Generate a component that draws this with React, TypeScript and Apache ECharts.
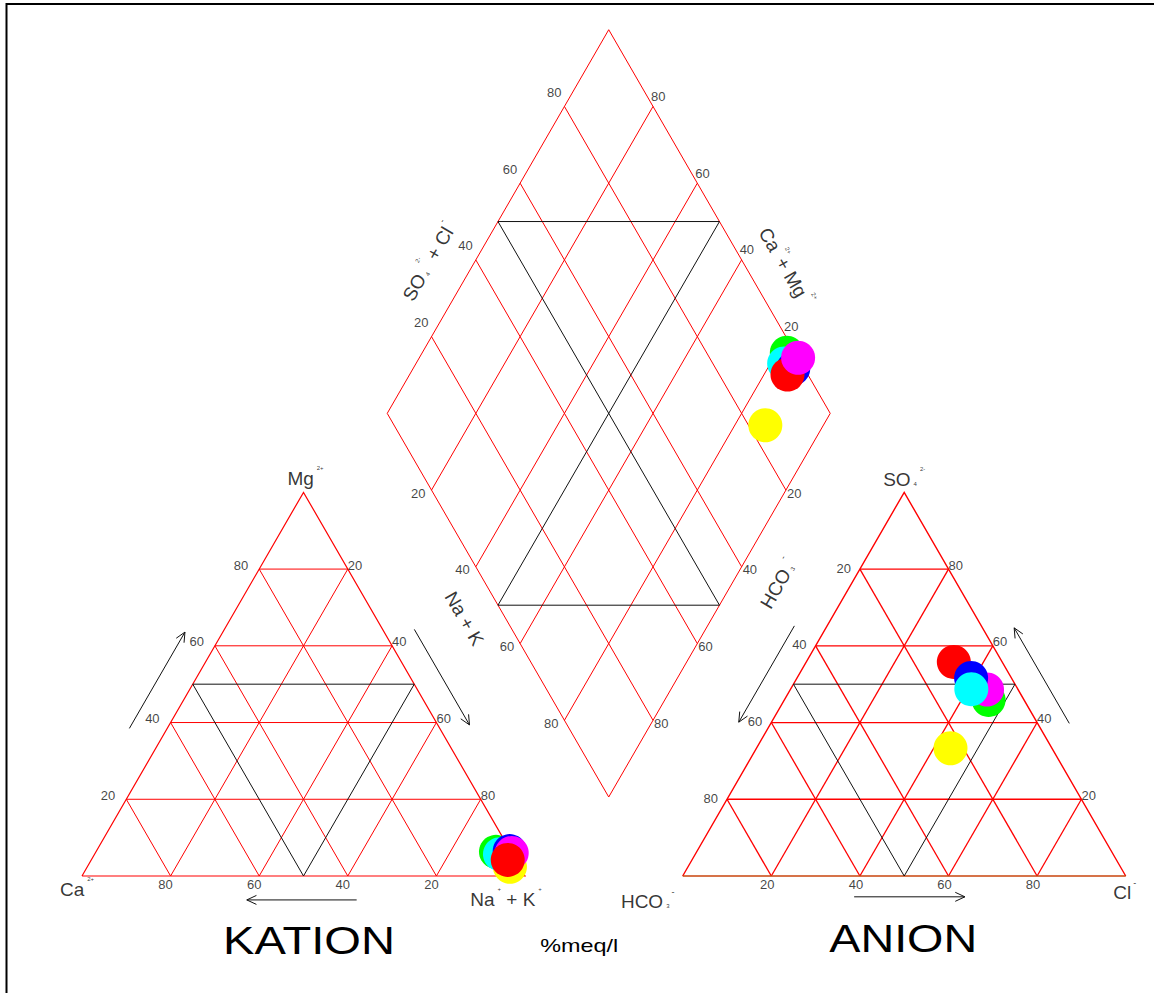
import { useEffect, useRef } from 'react';
import * as echarts from 'echarts';

const FONT = "'Liberation Sans', Arial, Helvetica, sans-serif";

// Percent ticks on every scale
const TICKS = [20, 40, 60, 80];

// One colour per water sample
const SAMPLE_COLORS = ['#00ff00', '#00ffff', '#0000ff', '#ff00ff', '#ff0000', '#ffff00'];

// Cations, % meq/l
const CATION_CA = [3.4, 2.8, 0.2, 0.0, 1.8, 2.2];
const CATION_MG = [6.3, 5.7, 6.5, 6.0, 4.2, 2.4];
const CATION_NAK = [90.3, 91.5, 93.3, 94.0, 94.0, 95.4];

// Anions, % meq/l
const ANION_HCO3 = [8.0, 10.5, 9.1, 7.0, 10.9, 22.9];
const ANION_SO4 = [45.9, 48.7, 51.6, 48.6, 55.8, 33.3];
const ANION_CL = [46.1, 40.8, 39.3, 44.4, 33.3, 43.8];

// Central field: Ca+Mg % and SO4+Cl %
const FIELD_CAMG = [17.7, 16.9, 14.2, 14.5, 14.7, 13.1];
const FIELD_SO4CL = [98.1, 96.1, 97.5, 100.0, 95.4, 83.8];

// Drawing order inside each plot (last one on top)
const CATION_ORDER = [5, 0, 1, 2, 3, 4];
const ANION_ORDER = [4, 5, 0, 3, 2, 1];
const FIELD_ORDER = [0, 1, 2, 4, 3, 5];

// ---- layout (diagram units: a triangle side is 100) ----
const CHART_W = 1154;
const CHART_H = 993;
const UNIT = 4.43; // px per unit
const ORIGIN_PX = [82, 876]; // Ca corner of the cation triangle
const ANION_SHIFT = 135.6;
const FIELD_BASE = [118.9, 17.83];
const R3 = Math.sqrt(3) / 2;
const MARKER = 34;

type Pt = number[];

const cat = (mg: number, nak: number): Pt => [nak + mg / 2, mg * R3];
const an = (so4: number, cl: number): Pt => [ANION_SHIFT + cl + so4 / 2, so4 * R3];
const fld = (camg: number, so4cl: number): Pt => [
  FIELD_BASE[0] + (so4cl - camg) / 2,
  FIELD_BASE[1] + (camg + so4cl) * R3,
];
const nudge = (p: Pt, dx: number, dy: number): Pt => [p[0] + dx / UNIT, p[1] - dy / UNIT];

const catPoint = (ca: number, mg: number, nak: number) => {
  const s = ca + mg + nak;
  return cat((mg * 100) / s, (nak * 100) / s);
};
const anPoint = (hco3: number, so4: number, cl: number) => {
  const s = hco3 + so4 + cl;
  return an((so4 * 100) / s, (cl * 100) / s);
};

function triangleGrid(f: (top: number, right: number) => Pt) {
  const segs: Pt[][] = [];
  TICKS.forEach((t) => {
    segs.push([f(t, 0), f(t, 100 - t)]);
    segs.push([f(0, t), f(100 - t, t)]);
    segs.push([f(0, 100 - t), f(100 - t, 0)]);
  });
  return segs;
}
function triangleHalf(f: (top: number, right: number) => Pt) {
  return [
    [f(50, 0), f(50, 50)],
    [f(0, 50), f(50, 50)],
    [f(0, 50), f(50, 0)],
  ];
}

function fieldGrid() {
  const segs: Pt[][] = [];
  TICKS.forEach((t) => {
    segs.push([fld(t, 0), fld(t, 100)]);
    segs.push([fld(0, t), fld(100, t)]);
  });
  segs.push([fld(0, 0), fld(100, 0), fld(100, 100), fld(0, 100), fld(0, 0)]);
  return segs;
}
function fieldHalf() {
  return [
    [fld(100, 50), fld(50, 100)],
    [fld(50, 0), fld(0, 50)],
    [fld(0, 50), fld(100, 50)],
    [fld(50, 0), fld(50, 100)],
  ];
}

const HEAD = 2.4;
const HEAD_ANGLE = (25 * Math.PI) / 180;
function arrow(start: Pt, dir: Pt, nrm: Pt, a0: number, a1: number, off: number): Pt[][] {
  const at = (a: number): Pt => [start[0] + dir[0] * a + nrm[0] * off, start[1] + dir[1] * a + nrm[1] * off];
  const tail = at(a0);
  const tip = at(a1);
  const len = Math.hypot(tip[0] - tail[0], tip[1] - tail[1]);
  const ux = (tip[0] - tail[0]) / len;
  const uy = (tip[1] - tail[1]) / len;
  const wing = (ang: number): Pt => [
    tip[0] - HEAD * (ux * Math.cos(ang) - uy * Math.sin(ang)),
    tip[1] - HEAD * (ux * Math.sin(ang) + uy * Math.cos(ang)),
  ];
  return [
    [tail, tip],
    [wing(HEAD_ANGLE), tip, wing(-HEAD_ANGLE)],
  ];
}

const UP_LEFT: Pt = [0.5, R3];
const UP_RIGHT: Pt = [-0.5, R3];
const OUT_LEFT: Pt = [-R3, 0.5];
const OUT_RIGHT: Pt = [R3, 0.5];
const ALONG: Pt = [1, 0];
const BELOW: Pt = [0, -1];

const ARROWS: Pt[][] = [
  ...arrow([0, 0], UP_LEFT, OUT_LEFT, 34.2, 59.3, 7.4),
  ...arrow([100, 0], UP_RIGHT, OUT_RIGHT, 60.7, 35.8, 6.2),
  ...arrow([0, 0], ALONG, BELOW, 62.0, 37.2, 5.4),
  ...arrow([ANION_SHIFT, 0], UP_LEFT, OUT_LEFT, 61.5, 36.4, 6.4),
  ...arrow([ANION_SHIFT + 100, 0], UP_RIGHT, OUT_RIGHT, 36.2, 61.1, 6.2),
  ...arrow([ANION_SHIFT, 0], ALONG, BELOW, 38.7, 63.7, 4.7),
];

const TEXT = '#111111';
const RICH = {
  t: { fontSize: 19, lineHeight: 24, color: '#000', fontFamily: FONT },
  sup: { fontSize: 6, lineHeight: 24, color: '#000', fontFamily: FONT, padding: [0, 0, 21, 3] },
  msup: { fontSize: 9, lineHeight: 24, color: '#000', fontFamily: FONT, padding: [0, 0, 19, 2] },
  sub: { fontSize: 6, lineHeight: 24, color: '#000', fontFamily: FONT, padding: [10, 0, 0, 3] },
};

function lbl(p: Pt, text: string, align: string, rotate = 0) {
  return {
    value: p,
    label: { formatter: text, align, verticalAlign: 'middle', rotate },
  };
}

function buildLabels() {
  const items: any[] = [];
  TICKS.forEach((t) => {
    const s = String(t);
    // cation triangle
    items.push(lbl(nudge(cat(t, 0), -11, -4), s, 'right'));
    items.push(lbl(nudge(cat(100 - t, t), 0, -4), s, 'left'));
    items.push(lbl(nudge(cat(0, 100 - t), -5, 8), s, 'center'));
    // anion triangle
    items.push(lbl(nudge(an(100 - t, 0), -9, -1), s, 'right'));
    items.push(lbl(nudge(an(t, 100 - t), 0, -4), s, 'left'));
    items.push(lbl(nudge(an(0, t), -4, 8), s, 'center'));
    // central field
    items.push(lbl(nudge(fld(100, t), -3, -14), s, 'right'));
    items.push(lbl(nudge(fld(t, 100), -2, -10), s, 'left'));
    items.push(lbl(nudge(fld(100 - t, 0), -6, 3), s, 'right'));
    items.push(lbl(nudge(fld(0, 100 - t), 1, 3), s, 'left'));
  });

  // axis titles
  items.push(lbl(nudge(cat(100, 0), 2, -14), '{t|Mg}{sup|2+}', 'center'));
  items.push(lbl(nudge(cat(0, 0), -5, 13), '{t|Ca}{sup|2+}', 'center'));
  items.push(lbl(nudge(cat(0, 100), -19, 23), '{t|Na}{sup|+}{t| + K}{sup|+}', 'center'));
  items.push(lbl(nudge(an(100, 0), 0, -13), '{t|SO}{sub|4}{sup|2-}', 'center'));
  items.push(lbl(nudge(an(0, 100), -1, 16), '{t|Cl}{msup|-}', 'center'));
  items.push(lbl(nudge(an(0, 0), -35, 25), '{t|HCO}{sub|3}{msup|-}', 'center'));

  items.push(lbl(nudge(fld(100, 34.3), -34, -20), '{t|SO}{sub|4}{sup|2-}{t| + Cl}{msup|-}', 'center', 60));
  items.push(lbl(nudge(fld(33.8, 100), 30, -17), '{t|Ca}{sup|2+}{t|+ Mg}{sup|2+}', 'center', -60));
  items.push(lbl(nudge(fld(51.2, 0), -31, 18), '{t|Na + K}', 'center', -60));
  items.push(lbl(nudge(fld(0, 60.8), 35, 20), '{t|HCO}{sub|3}{msup|-}', 'center', 60));
  return items;
}

function lineSeries(segs: Pt[][], color: string, width: number, z: number) {
  return {
    type: 'lines',
    coordinateSystem: 'cartesian2d',
    polyline: true,
    silent: true,
    z,
    lineStyle: { color, width, opacity: 1 },
    data: segs.map((coords) => ({ coords })),
  };
}

function markerSeries(order: number[], pos: (i: number) => Pt) {
  return {
    type: 'scatter',
    symbol: 'circle',
    symbolSize: MARKER,
    silent: true,
    z: 4,
    data: order.map((i) => ({ value: pos(i), itemStyle: { color: SAMPLE_COLORS[i], opacity: 1 } })),
  };
}

function buildOption() {
  const catF = (top: number, right: number) => cat(top, right);
  const anF = (top: number, right: number) => an(top, right);
  return {
    animation: false,
    backgroundColor: '#ffffff',
    grid: { left: 0, right: 0, top: 0, bottom: 0 },
    xAxis: {
      type: 'value',
      min: -ORIGIN_PX[0] / UNIT,
      max: (CHART_W - ORIGIN_PX[0]) / UNIT,
      show: false,
    },
    yAxis: {
      type: 'value',
      min: -(CHART_H - ORIGIN_PX[1]) / UNIT,
      max: ORIGIN_PX[1] / UNIT,
      show: false,
    },
    series: [
      lineSeries(triangleGrid(catF), '#ff0000', 1, 1),
      lineSeries([[cat(0, 0), cat(0, 100), cat(100, 0), cat(0, 0)]], '#ff0000', 1.2, 1),
      lineSeries(triangleGrid(anF), '#ff0000', 1.3, 1),
      lineSeries([[an(0, 0), an(100, 0), an(0, 100)]], '#ff0000', 1.4, 1),
      lineSeries([[an(0, 0), an(0, 100)]], '#c8440c', 1.6, 1),
      lineSeries(fieldGrid(), '#ff0000', 1, 1),
      lineSeries([...triangleHalf(catF), ...triangleHalf(anF), ...fieldHalf()], '#111111', 1, 2),
      lineSeries(ARROWS, '#111111', 1, 2),
      markerSeries(CATION_ORDER, (i) => catPoint(CATION_CA[i], CATION_MG[i], CATION_NAK[i])),
      markerSeries(ANION_ORDER, (i) => anPoint(ANION_HCO3[i], ANION_SO4[i], ANION_CL[i])),
      markerSeries(FIELD_ORDER, (i) => fld(FIELD_CAMG[i], FIELD_SO4CL[i])),
      {
        type: 'scatter',
        symbol: 'circle',
        symbolSize: 1,
        silent: true,
        z: 5,
        itemStyle: { color: 'rgba(0,0,0,0)' },
        label: {
          show: true,
          position: 'inside',
          color: TEXT,
          fontSize: 13,
          fontFamily: FONT,
          textBorderWidth: 0,
          rich: RICH,
        },
        emphasis: { disabled: true },
        data: buildLabels(),
      },
    ],
  };
}

function buildGraphic(toPx: (p: Pt) => Pt) {
  const title = (p: Pt, text: string, size: number, stretch: number) => {
    const [x, y] = toPx(p);
    return {
      type: 'text',
      x,
      y,
      scaleX: stretch,
      silent: true,
      z: 10,
      style: {
        text,
        fontSize: size,
        fontFamily: FONT,
        fill: '#000',
        align: 'center',
        verticalAlign: 'middle',
      },
    };
  };
  return [
    { type: 'line', silent: true, shape: { x1: 6, y1: 4, x2: CHART_W, y2: 4 }, style: { stroke: '#000', lineWidth: 2 } },
    { type: 'line', silent: true, shape: { x1: 6.5, y1: 3, x2: 6.5, y2: CHART_H }, style: { stroke: '#000', lineWidth: 2 } },
    title(nudge(cat(0, 50), 5.5, 65), 'KATION', 38, 1.24),
    title(nudge(an(0, 50), -1, 63), 'ANION', 38, 1.23),
    title(nudge([(100 + ANION_SHIFT) / 2, 0], -24.6, 70), '%meq/l', 18, 1.3),
  ];
}

export default function App() {
  const ref = useRef<HTMLDivElement>(null);
  useEffect(() => {
    const el = ref.current;
    if (!el) return;
    const chart = echarts.init(el, undefined, { renderer: 'svg' });
    chart.setOption(buildOption() as any);
    const toPx = (p: Pt) => chart.convertToPixel({ gridIndex: 0 }, p) as number[];
    chart.setOption({ graphic: buildGraphic(toPx) } as any);
    return () => chart.dispose();
  }, []);
  return (
    <div
      ref={ref}
      style={{ position: 'fixed', left: 0, top: 0, width: CHART_W, height: CHART_H, background: '#fff' }}
    />
  );
}
